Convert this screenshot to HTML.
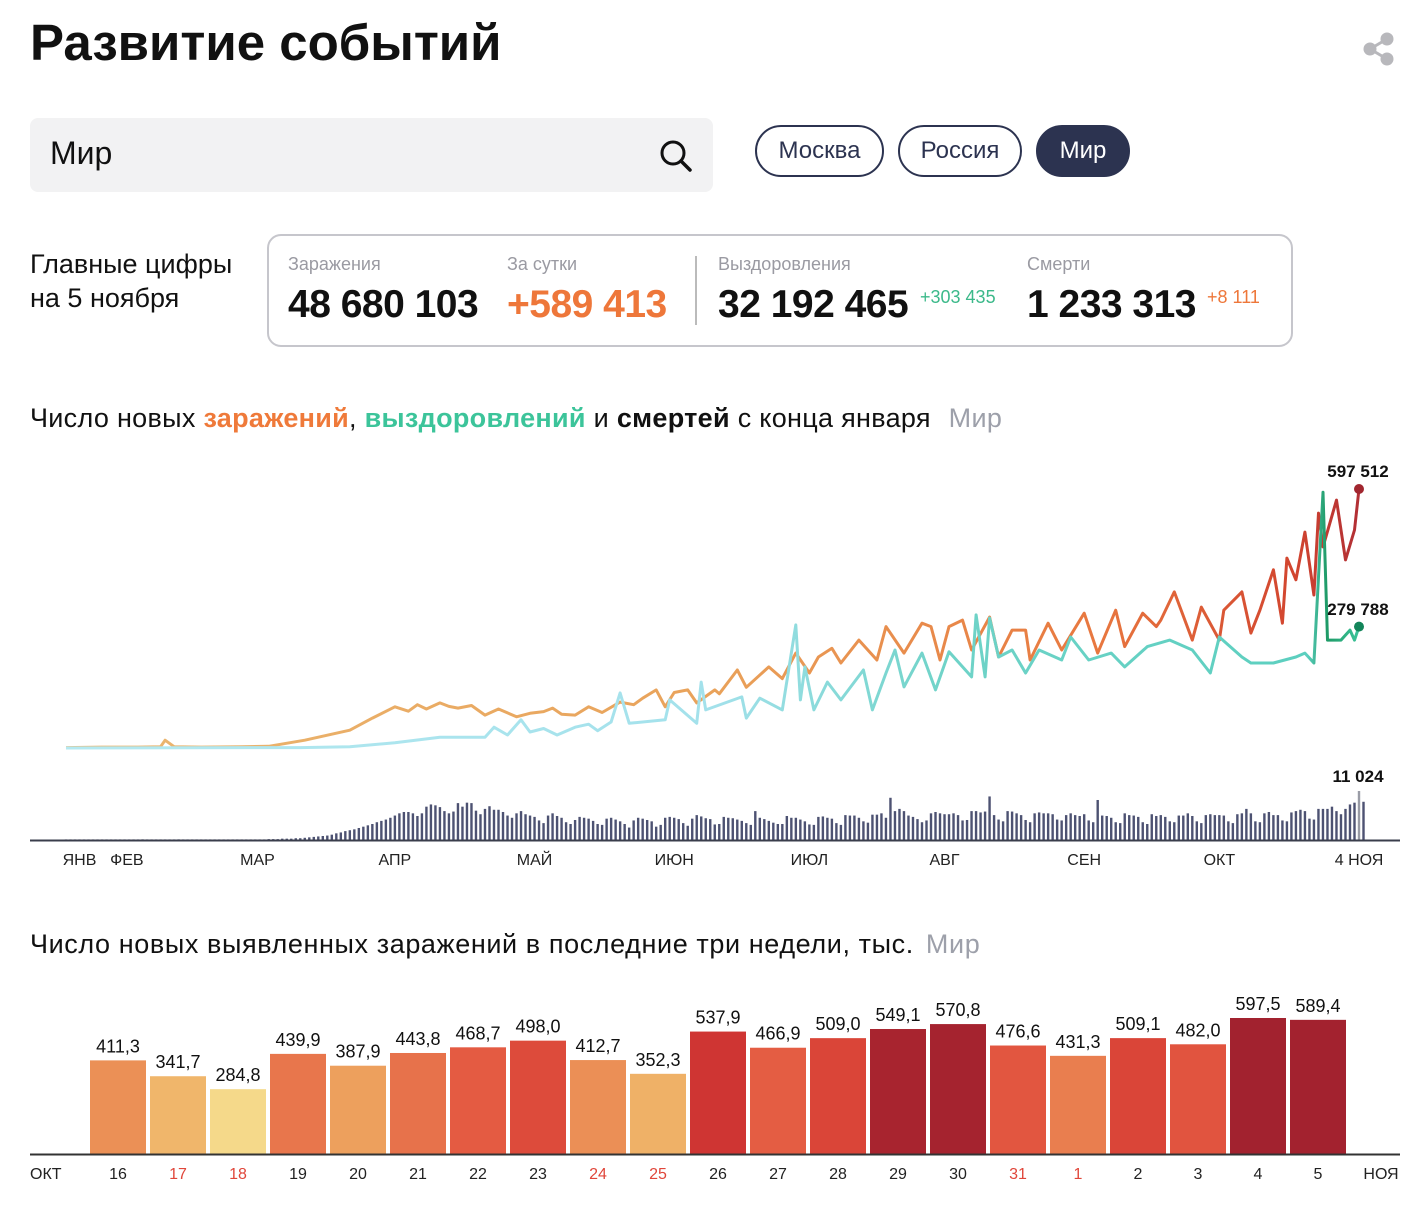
<!DOCTYPE html>
<html><head><meta charset="utf-8"><style>
body{margin:0;width:1416px;height:1206px;background:#fff;font-family:"Liberation Sans",sans-serif;position:relative;overflow:hidden;color:#111}
.a{position:absolute;white-space:nowrap}
.pill{position:absolute;top:125px;height:48px;border:2px solid #2c3350;border-radius:27px;font-size:24px;line-height:48px;text-align:center;color:#2c3350}
.lbl{position:absolute;top:254px;font-size:18px;color:#9a9aa2}
.num{position:absolute;top:283px;font-size:39px;font-weight:bold;letter-spacing:-0.5px}
</style></head><body>
<div class="a" style="left:30px;top:13px;font-size:51px;font-weight:bold;">Развитие событий</div>
<svg class="a" style="left:1362px;top:32px" width="34" height="34" viewBox="0 0 34 34"><g fill="#b8b8bc" stroke="#b8b8bc" stroke-width="3"><line x1="25" y1="7" x2="8" y2="17"/><line x1="8" y1="17" x2="25" y2="27"/><circle cx="25" cy="7" r="5"/><circle cx="8" cy="17" r="5"/><circle cx="25" cy="27" r="5"/></g></svg>
<div class="a" style="left:30px;top:118px;width:683px;height:74px;background:#f2f2f3;border-radius:8px;">
<span class="a" style="left:20px;top:17px;font-size:32px;">Мир</span>
<svg class="a" style="left:628px;top:20px" width="36" height="36"><circle cx="15" cy="15" r="11" fill="none" stroke="#111" stroke-width="3"/><line x1="23" y1="23" x2="32" y2="32" stroke="#111" stroke-width="3.5" stroke-linecap="round"/></svg></div>
<div class="pill" style="left:755px;width:125px">Москва</div>
<div class="pill" style="left:898px;width:120px">Россия</div>
<div class="pill" style="left:1036px;width:90px;background:#2c3350;color:#fff">Мир</div>
<div class="a" style="left:30px;top:247px;font-size:27px;line-height:34px;">Главные цифры<br>на 5 ноября</div>
<div class="a" style="left:267px;top:234px;width:1022px;height:109px;border:2px solid #c6c6cc;border-radius:14px;"></div>
<div class="lbl" style="left:288px">Заражения</div>
<div class="lbl" style="left:507px">За сутки</div>
<div class="lbl" style="left:718px">Выздоровления</div>
<div class="lbl" style="left:1027px">Смерти</div>
<div class="num" style="left:288px">48 680 103</div>
<div class="num" style="left:507px;color:#ee773a">+589 413</div>
<div class="num" style="left:718px">32 192 465</div>
<div class="num" style="left:1027px">1 233 313</div>
<div class="a" style="left:920px;top:287px;font-size:18px;color:#3cb98a">+303 435</div>
<div class="a" style="left:1207px;top:287px;font-size:18px;color:#ee773a">+8 111</div>
<div class="a" style="left:695px;top:256px;width:2px;height:69px;background:#bbb"></div>
<div class="a" style="left:30px;top:403px;font-size:27px;letter-spacing:0.3px">Число новых <b style="color:#ef7a3a">заражений</b>, <b style="color:#3cc49a">выздоровлений</b> и <b>смертей</b> с конца января <span style="color:#9da0aa;margin-left:10px">Мир</span></div>
<div class="a" style="left:30px;top:929px;font-size:27px;letter-spacing:0.6px">Число новых выявленных заражений в последние три недели, тыс. <span style="color:#9da0aa;margin-left:4px">Мир</span></div>
<svg id="trend" class="a" style="left:0;top:0" width="1416" height="1206">
<defs>
<linearGradient id="go" gradientUnits="userSpaceOnUse" x1="66" y1="0" x2="1359" y2="0"><stop offset="0" stop-color="#eab872"/><stop offset="0.5" stop-color="#e9a25a"/><stop offset="0.8" stop-color="#e8773f"/><stop offset="0.95" stop-color="#d2452f"/><stop offset="1" stop-color="#b22f35"/></linearGradient>
<linearGradient id="gt" gradientUnits="userSpaceOnUse" x1="66" y1="0" x2="1359" y2="0"><stop offset="0" stop-color="#b5e9f1"/><stop offset="0.5" stop-color="#a3e1eb"/><stop offset="0.68" stop-color="#6fd3c8"/><stop offset="0.96" stop-color="#5ccfbf"/><stop offset="0.975" stop-color="#1e9a66"/><stop offset="1" stop-color="#3cc49a"/></linearGradient>
</defs></svg>
<script>
const caseDays=[0,8,16,21,22,24,30,39,45,53,63,68,73,76,78,80,83,85,87,90,93,96,100,103,106,108,110,113,116,119,123,126,128,131,133,135,138,140,144,145,149,151,156,159,162,165,167,170,172,176,180,182,186,190,192,194,196,199,201,205,207,210,213,214,218,221,226,229,233,235,239,242,243,246,250,252,256,257,261,263,265,268,270,271,273,275,277,278,279,282,284,286,287];
const caseK=[1,2,2,3,18,3,2,3,4,18,41,69,95,85,100,90,104,96,92,98,76,90,72,80,84,92,78,76,95,82,106,100,115,134,95,128,134,104,134,125,180,140,187,160,219,173,210,230,196,249,203,280,219,288,280,203,280,295,226,302,210,272,272,203,288,226,311,219,318,234,311,280,295,360,249,325,249,318,360,265,318,411,288,438,388,498,353,542,464,572,434,503,597.5];
const recDays=[0,52,63,73,83,93,95,98,101,103,106,109,113,116,118,121,123,125,133,134,140,141,142,150,151,154,159,162,163,164,166,169,172,177,179,182,184,186,190,193,196,201,202,204,205,207,210,213,216,221,223,227,232,235,240,245,250,254,256,261,263,268,273,275,277,279,280,283,285,286,287];
const recK=[0,1,3,12,25,25,48,30,65,37,45,30,48,55,40,60,127,57,65,111,57,152,88,118,69,115,88,284,111,187,88,152,111,180,88,173,226,141,219,134,222,164,307,164,300,210,226,173,226,203,256,203,219,187,234,249,226,173,256,210,196,196,210,219,196,590,249,249,272,249,280];
const deaths=[0.02,0.03,0.03,0.04,0.05,0.06,0.08,0.1,0.1,0.1,0.1,0.1,0.1,0.1,0.1,0.1,0.1,0.15,0.1,0.1,0.1,0.1,0.1,0.1,0.1,0.15,0.1,0.1,0.1,0.1,0.1,0.1,0.1,0.1,0.1,0.1,0.1,0.1,0.1,0.1,0.1,0.1,
0.1,0.1,0.1,0.2,0.2,0.2,0.3,0.3,0.3,0.4,0.4,0.5,0.6,0.7,0.8,0.9,1.0,1.2,1.5,1.7,2.0,2.2,2.4,2.7,3.0,3.3,3.6,4.0,4.3,4.6,5.0,
5.5,6.0,6.3,6.3,6.0,5.4,6.0,7.5,8.0,7.8,7.4,6.5,6.0,6.4,8.3,7.5,8.4,8.3,6.6,5.8,7.0,7.6,6.8,6.8,6.3,5.5,5.0,6.0,6.5,5.8,
5.5,5.2,4.4,3.8,5.5,6.0,5.4,5.0,4.0,3.6,4.5,5.2,5.0,4.8,4.3,3.6,3.4,4.8,5.0,4.6,4.2,3.6,2.8,4.4,5.0,4.8,4.5,4.2,3.0,3.4,5.0,
5.2,5.0,4.7,3.8,3.2,4.8,5.6,5.3,4.9,4.7,3.5,3.6,5.2,5.0,4.9,4.6,4.3,3.8,3.4,6.5,5.0,4.7,4.3,3.9,3.6,3.6,5.4,5.0,5.0,4.6,
4.2,3.5,3.4,5.2,5.3,5.0,4.8,3.8,3.4,5.6,5.5,5.5,5.0,4.2,3.9,5.7,5.7,6.0,5.0,9.5,6.5,7.0,6.5,5.5,5.2,4.7,4.0,4.4,6.0,6.3,6.0,
5.8,5.8,6.0,5.6,4.4,4.5,6.5,6.5,6.2,6.4,9.8,5.6,4.6,4.2,6.5,6.4,6.0,5.6,4.5,4.0,6.0,6.2,6.0,6.0,5.8,4.6,4.4,5.6,6.0,5.6,5.4,
5.8,4.4,4.0,9.0,5.5,5.4,5.0,4.0,3.8,6.0,5.6,5.5,5.2,4.0,3.6,5.8,5.4,5.6,5.2,4.2,4.0,5.5,5.5,6.0,5.4,4.2,3.8,5.6,5.8,5.6,
5.6,5.5,4.2,3.8,5.8,6.0,7.0,6.0,4.2,4.0,6.0,6.3,5.6,5.6,4.4,4.2,6.2,6.5,6.8,6.5,4.8,4.6,7.0,7.0,7.0,7.5,6.5,5.8,7.0,8.0,8.4,11.024,8.6];
const months=["ЯНВ","ФЕВ","МАР","АПР","МАЙ","ИЮН","ИЮЛ","АВГ","СЕН","ОКТ","4 НОЯ"];
const monthDays=[3,13.5,42.5,73,104,135,165,195,226,256,287];

const NS="http://www.w3.org/2000/svg";
const svg=document.getElementById('trend');
const xDay=d=>66+d*(1293/287);
const yK=k=>748-k*(259/597.5);
const yD=v=>840-v*(49/11.024);
function mk(t,a){const e=document.createElementNS(NS,t);for(const k in a)e.setAttribute(k,a[k]);svg.appendChild(e);return e;}
deaths.forEach((v,i)=>{const h=Math.max(0.6,840-yD(v));
 const r=mk('rect',{x:xDay(i)-1.2,y:840-h,width:2.4,height:h,fill:i===287?'#9a9ca6':'#4d5272'});
 
 });
mk('line',{x1:30,y1:840.5,x2:1400,y2:840.5,stroke:'#3a3d4c','stroke-width':2});
const pc=mk('path',{d:caseDays.map((d,i)=>(i?'L':'M')+xDay(d).toFixed(1)+' '+yK(caseK[i]).toFixed(1)).join(''),fill:'none',stroke:'url(#go)','stroke-width':3,'stroke-linejoin':'round'});


const pr=mk('path',{d:recDays.map((d,i)=>(i?'L':'M')+xDay(d).toFixed(1)+' '+yK(recK[i]).toFixed(1)).join(''),fill:'none',stroke:'url(#gt)','stroke-width':3,'stroke-linejoin':'round'});


const c1=mk('circle',{cx:xDay(caseDays[caseDays.length-1]),cy:yK(caseK[caseK.length-1]),r:5,fill:'#a1262f'});


const c2=mk('circle',{cx:xDay(recDays[recDays.length-1]),cy:yK(recK[recK.length-1]),r:5,fill:'#13855a'});


function txt(s,x,y,a){const t=mk('text',Object.assign({x:x,y:y,'text-anchor':'middle','font-family':'Liberation Sans, sans-serif'},a));t.textContent=s;return t;}
let t=txt('597 512',1358,477,{'font-size':17,'font-weight':'bold',fill:'#111'});
t=txt('279 788',1358,615,{'font-size':17,'font-weight':'bold',fill:'#111'});
t=txt('11 024',1358,782,{'font-size':17,'font-weight':'bold',fill:'#111'});
months.forEach((m,i)=>{const e=txt(m,xDay(monthDays[i]),865,{'font-size':16,fill:'#222'});
 
 });
</script>
<svg id="bars" class="a" style="left:0;top:0" width="1416" height="1206"></svg>
<script>
const barDates=["16","17","18","19","20","21","22","23","24","25","26","27","28","29","30","31","1","2","3","4","5"];
const barVals=[411.3,341.7,284.8,439.9,387.9,443.8,468.7,498.0,412.7,352.3,537.9,466.9,509.0,549.1,570.8,476.6,431.3,509.1,482.0,597.5,589.4];
const weekend=[false,true,true,false,false,false,false,false,true,true,false,false,false,false,false,true,true,false,false,false,false];
(function(){
const s=document.getElementById('bars');
const stopV=[285,345,400,440,470,500,538,549,600];
const stopC=[[245,217,138],[240,180,105],[236,154,90],[232,118,76],[228,90,66],[221,74,58],[207,53,51],[168,36,47],[162,34,47]];
function col(v){for(let i=1;i<stopV.length;i++){if(v<=stopV[i]){const t=Math.max(0,(v-stopV[i-1])/(stopV[i]-stopV[i-1]));const c=stopC[i-1].map((a,j)=>Math.round(a+(stopC[i][j]-a)*t));return 'rgb('+c+')';}}return 'rgb('+stopC[stopC.length-1]+')';}
const xB=i=>118+i*60, yB=v=>1154-v*(136/597.5);
function mk(t,a){const e=document.createElementNS("http://www.w3.org/2000/svg",t);for(const k in a)e.setAttribute(k,a[k]);s.appendChild(e);return e;}
barVals.forEach((v,i)=>{
 const r=mk('rect',{x:xB(i)-28,y:yB(v),width:56,height:1154-yB(v),fill:col(v)});
 
 
 const l=mk('text',{x:xB(i),y:yB(v)-8,'text-anchor':'middle','font-size':18,fill:'#111','font-family':'Liberation Sans, sans-serif'});l.textContent=String(v.toFixed(1)).replace('.',',');
 
 
 const d=mk('text',{x:xB(i),y:1179,'text-anchor':'middle','font-size':16,fill:weekend[i]?'#e0463a':'#222','font-family':'Liberation Sans, sans-serif'});d.textContent=barDates[i];
 
 
});
const ax=mk('line',{x1:30,y1:1154.5,x2:1400,y2:1154.5,stroke:'#333','stroke-width':2});


let e=mk('text',{x:30,y:1179,'font-size':16,fill:'#222','font-family':'Liberation Sans, sans-serif'});e.textContent='ОКТ';


e=mk('text',{x:1381,y:1179,'text-anchor':'middle','font-size':16,fill:'#222','font-family':'Liberation Sans, sans-serif'});e.textContent='НОЯ';


})();
</script>
</body></html>
